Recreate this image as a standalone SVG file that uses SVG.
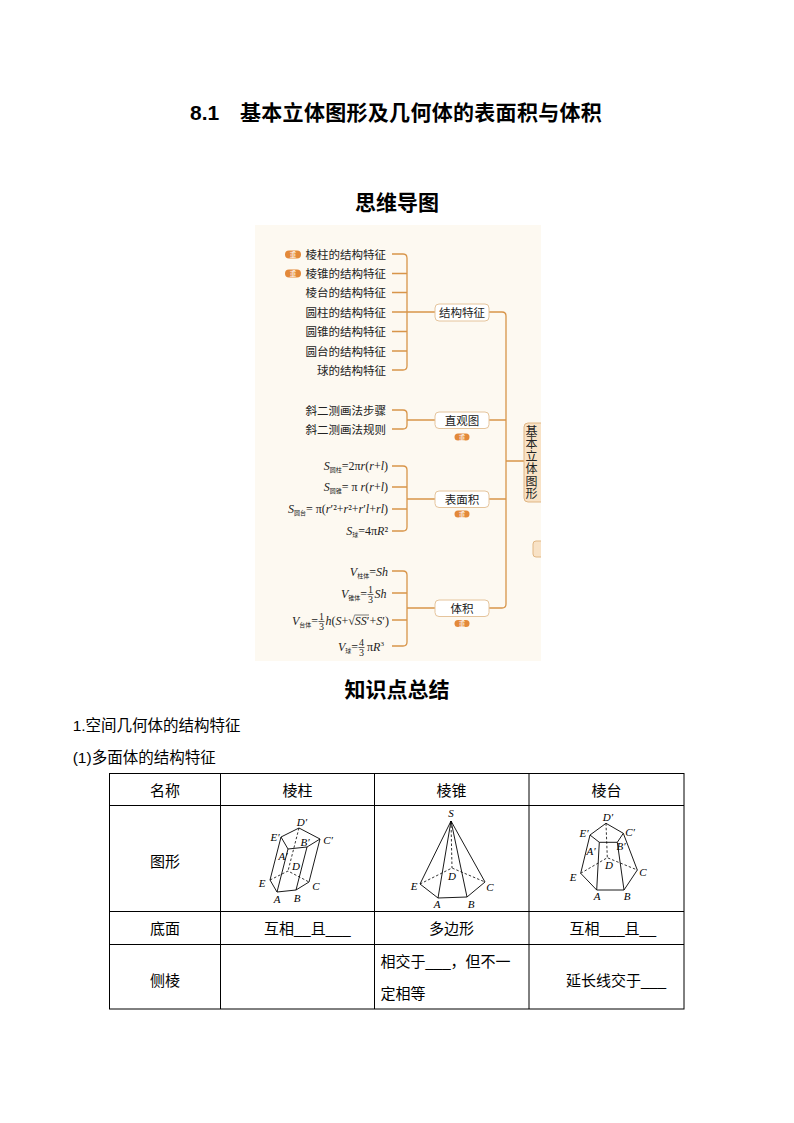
<svg xmlns="http://www.w3.org/2000/svg" width="794" height="1123" viewBox="0 0 794 1123">
<defs>
<style>
.h{font-family:"Liberation Sans","Noto Sans CJK SC",sans-serif;font-weight:bold;font-size:21px;fill:#000}
.b{font-family:"Liberation Sans","Noto Sans CJK SC",sans-serif;font-size:15.5px;fill:#000}
.t{font-family:"Liberation Sans","Noto Sans CJK SC",sans-serif;font-size:15px;fill:#000}
.mm{font-family:"Noto Sans CJK SC",sans-serif;font-size:11.5px;fill:#222}
.nt{font-family:"Noto Sans CJK SC",sans-serif;font-size:11.5px;fill:#222;text-anchor:middle}
.fm{font-family:"Liberation Serif","Noto Sans CJK SC",serif;font-size:12px;fill:#222}
.fr{font-family:"Liberation Serif",serif;font-size:10px;fill:#222;text-anchor:middle}
.sb{font-family:"Noto Sans CJK SC",sans-serif;font-size:6px}
.i{font-style:italic}
.lb{font-family:"Liberation Serif",serif;font-style:italic;font-size:11px;fill:#000;text-anchor:middle}
.bg{font-family:"Noto Sans CJK SC",sans-serif;font-size:6.5px;fill:#fff;text-anchor:middle}
.badge{fill:#e3893a}
.node{fill:#fff;stroke:#e5c49c;stroke-width:1}
.root{fill:#f8e2c6;stroke:#e0b683;stroke-width:1}
.ln{fill:none;stroke:#d8954a;stroke-width:1.3}
.fs{fill:none;stroke:#000;stroke-width:0.9;stroke-linejoin:round}
.fd{fill:none;stroke:#000;stroke-width:0.8;stroke-dasharray:2.5,2}
.tb{fill:none;stroke:#000;stroke-width:1}
.vt{font-family:"Noto Sans CJK SC",sans-serif;font-size:12px;fill:#222;writing-mode:vertical-rl;letter-spacing:0.5px}
</style>
<clipPath id="mmclip"><rect x="255" y="225" width="286" height="436"/></clipPath>
</defs>
<rect width="794" height="1123" fill="#fff"/>

<text class="h" y="120"><tspan x="190">8.1</tspan><tspan x="240" letter-spacing="0.3">基本立体图形及几何体的表面积与体积</tspan></text>
<text class="h" x="397" y="209.5" text-anchor="middle">思维导图</text>

<!-- mind map -->
<g clip-path="url(#mmclip)">
<rect x="255" y="225" width="286" height="436" fill="#fdf9f1"/>

<g id="connectors">
<path class="ln" d="M392,254 H403 Q407,254 407,258 V366 Q407,370 403,370 H392 M392,273.5 H407 M392,292.5 H407 M392,312 H407 M392,331.5 H407 M392,351 H407 M407,312 H435"/>
<path class="ln" d="M392,410 H403 Q407,410 407,414 V425 Q407,429 403,429 H392 M407,420 H435"/>
<path class="ln" d="M392,466 H403 Q407,466 407,470 V527 Q407,531 403,531 H392 M392,487 H407 M392,509 H407 M407,499 H435"/>
<path class="ln" d="M392,571 H403 Q407,571 407,575 V642 Q407,646 403,646 H392 M392,593 H407 M392,620 H407 M407,608 H435"/>
<path class="ln" d="M489,312 H502 Q506,312 506,316 V604 Q506,608 502,608 H489 M489,420 H506 M489,499 H506 M506,461 H524"/>
</g>

<g id="leaf-jgtz">
<rect class="badge" x="285" y="250.5" width="16" height="8" rx="4"/><text class="bg" x="293" y="257">重</text>
<text class="mm" x="386" y="258.5" text-anchor="end">棱柱的结构特征</text>
<rect class="badge" x="285" y="269.5" width="16" height="8" rx="4"/><text class="bg" x="293" y="276">重</text>
<text class="mm" x="386" y="278" text-anchor="end">棱锥的结构特征</text>
<text class="mm" x="386" y="297" text-anchor="end">棱台的结构特征</text>
<text class="mm" x="386" y="316.5" text-anchor="end">圆柱的结构特征</text>
<text class="mm" x="386" y="336" text-anchor="end">圆锥的结构特征</text>
<text class="mm" x="386" y="355.5" text-anchor="end">圆台的结构特征</text>
<text class="mm" x="386" y="374.5" text-anchor="end">球的结构特征</text>
</g>
<g id="node-jgtz"><rect class="node" x="435" y="304" width="54" height="17" rx="4"/><text class="nt" x="462" y="316.5">结构特征</text></g>

<g id="leaf-zgt">
<text class="mm" x="386" y="414.5" text-anchor="end">斜二测画法步骤</text>
<text class="mm" x="386" y="433.5" text-anchor="end">斜二测画法规则</text>
</g>
<g id="node-zgt"><rect class="node" x="435" y="412" width="54" height="16.5" rx="4"/><text class="nt" x="462" y="424.5">直观图</text>
<rect class="badge" x="454.5" y="433.5" width="15" height="7" rx="3.5"/><text class="bg" x="462" y="439.5">重</text></g>

<g id="leaf-bmj">
<text class="fm" x="388" y="470" text-anchor="end"><tspan class="i">S</tspan><tspan class="sb" dy="2">圆柱</tspan><tspan dy="-2">=2π</tspan><tspan class="i">r</tspan>(<tspan class="i">r</tspan>+<tspan class="i">l</tspan>)</text>
<text class="fm" x="388" y="491" text-anchor="end"><tspan class="i">S</tspan><tspan class="sb" dy="2">圆锥</tspan><tspan dy="-2">= π </tspan><tspan class="i">r</tspan>(<tspan class="i">r</tspan>+<tspan class="i">l</tspan>)</text>
<text class="fm" x="388" y="513" text-anchor="end"><tspan class="i">S</tspan><tspan class="sb" dy="2">圆台</tspan><tspan dy="-2">= π(</tspan><tspan class="i">r</tspan>′²+<tspan class="i">r</tspan>²+<tspan class="i">r</tspan>′<tspan class="i">l</tspan>+<tspan class="i">rl</tspan>)</text>
<text class="fm" x="388" y="535" text-anchor="end"><tspan class="i">S</tspan><tspan class="sb" dy="2">球</tspan><tspan dy="-2">=4π</tspan><tspan class="i">R</tspan>²</text>
</g>
<g id="node-bmj"><rect class="node" x="435" y="491" width="54" height="16.5" rx="4"/><text class="nt" x="462" y="503.5">表面积</text>
<rect class="badge" x="454.5" y="510.5" width="15" height="7" rx="3.5"/><text class="bg" x="462" y="516.5">重</text></g>

<g id="leaf-tj">
<text class="fm" x="388" y="575.5" text-anchor="end"><tspan class="i">V</tspan><tspan class="sb" dy="2">柱体</tspan><tspan dy="-2">=</tspan><tspan class="i">Sh</tspan></text>

<text class="fm" x="341" y="597.5"><tspan class="i">V</tspan><tspan class="sb" dy="2">锥体</tspan><tspan dy="-2">=</tspan></text>
<text class="fr" x="370.5" y="593">1</text><line x1="367.5" y1="594.5" x2="373.5" y2="594.5" stroke="#222" stroke-width="0.7"/><text class="fr" x="370.5" y="603">3</text>
<text class="fm i" x="374.5" y="597.5">Sh</text>

<text class="fm" x="292" y="624.5"><tspan class="i">V</tspan><tspan class="sb" dy="2">台体</tspan><tspan dy="-2">=</tspan></text>
<text class="fr" x="321.5" y="620">1</text><line x1="318.5" y1="621.5" x2="324.5" y2="621.5" stroke="#222" stroke-width="0.7"/><text class="fr" x="321.5" y="630">3</text>
<text class="fm" x="325.5" y="624.5"><tspan class="i">h</tspan>(<tspan class="i">S</tspan>+√<tspan class="i">SS</tspan>′+<tspan class="i">S</tspan>′)</text>
<line x1="354.5" y1="615" x2="369" y2="615" stroke="#222" stroke-width="0.6"/>

<text class="fm" x="338" y="650.5"><tspan class="i">V</tspan><tspan class="sb" dy="2">球</tspan><tspan dy="-2">=</tspan></text>
<text class="fr" x="361.5" y="646">4</text><line x1="358.5" y1="647.5" x2="364.5" y2="647.5" stroke="#222" stroke-width="0.7"/><text class="fr" x="361.5" y="656">3</text>
<text class="fm" x="367" y="650.5">π<tspan class="i">R</tspan><tspan font-size="7" dy="-5">3</tspan></text>
</g>
<g id="node-tj"><rect class="node" x="435" y="600" width="54" height="16.5" rx="4"/><text class="nt" x="462" y="612.5">体积</text>
<rect class="badge" x="454.5" y="620" width="15" height="7" rx="3.5"/><text class="bg" x="462" y="626">重</text></g>

<g id="node-root"><rect class="root" x="524" y="423" width="24" height="79" rx="4"/>
<text class="vt" x="531.5" y="425">基本立体图形</text></g>
<g id="node-partial"><rect class="root" x="533" y="541" width="14" height="16" rx="3"/></g>
</g>

<!-- knowledge summary -->
<text class="h" x="397" y="696.5" text-anchor="middle">知识点总结</text>
<text class="b" x="72.7" y="731">1.空间几何体的结构特征</text>
<text class="b" x="72.7" y="763">(1)多面体的结构特征</text>

<g id="table">
<rect class="tb" x="109.5" y="773.5" width="574.5" height="235.5"/>
<path class="tb" d="M109.5,805.5 H684 M109.5,911.5 H684 M109.5,944.5 H684 M220.5,773.5 V1009 M374.5,773.5 V1009 M529,773.5 V1009"/>
<text class="t" x="165" y="795.5" text-anchor="middle">名称</text>
<text class="t" x="297.5" y="795.5" text-anchor="middle">棱柱</text>
<text class="t" x="451.5" y="795.5" text-anchor="middle">棱锥</text>
<text class="t" x="606.5" y="795.5" text-anchor="middle">棱台</text>
<text class="t" x="165" y="867" text-anchor="middle">图形</text>
<text class="t" x="165" y="934" text-anchor="middle">底面</text>
<text class="t" x="264" y="934">互相__且___</text>
<text class="t" x="451.5" y="934" text-anchor="middle">多边形</text>
<text class="t" x="569.5" y="934">互相___且__</text>
<text class="t" x="165" y="985.5" text-anchor="middle">侧棱</text>
<text class="t" x="380.5" y="966.5">相交于___，但不一</text>
<text class="t" x="380.5" y="998.5">定相等</text>
<text class="t" x="566" y="985.5">延长线交于___</text>
</g>

<g id="fig-prism">
<path class="fs" d="M281,837 L299,828 L320,839 L307,847 L288,849 Z"/>
<path class="fs" d="M281,837 L270,880 L277,892 L296,890 L309,882 L320,839 M288,849 L277,892 M307,847 L296,890"/>
<path class="fd" d="M299,828 L288,871 M270,880 L288,871 L309,882"/>
<text class="lb" x="302" y="826">D′</text>
<text class="lb" x="275" y="841">E′</text>
<text class="lb" x="328" y="844">C′</text>
<text class="lb" x="305" y="846">B′</text>
<text class="lb" x="283" y="860">A′</text>
<text class="lb" x="296" y="870">D</text>
<text class="lb" x="262" y="887">E</text>
<text class="lb" x="277" y="903">A</text>
<text class="lb" x="297" y="902">B</text>
<text class="lb" x="316" y="890">C</text>
</g>

<g id="fig-pyramid">
<path class="fs" d="M451,821 L420,884 L438,898 L467,897 L485,882 Z M451,821 L438,898 M451,821 L467,897"/>
<path class="fd" d="M451,821 L452,868 M420,884 L452,868 L485,882"/>
<text class="lb" x="451" y="817">S</text>
<text class="lb" x="414" y="890">E</text>
<text class="lb" x="437" y="908">A</text>
<text class="lb" x="471" y="908">B</text>
<text class="lb" x="490" y="891">C</text>
<text class="lb" x="452" y="880">D</text>
</g>

<g id="fig-frustum">
<path class="fs" d="M590,835 L606,823.3 L623.3,833.3 L617.3,842.3 L599.3,842.3 Z"/>
<path class="fs" d="M590,835 L580.7,873.3 L596.7,890 L624,890 L637.3,870 L623.3,833.3 M599.3,842.3 L596.7,890 M617.3,842.3 L624,890"/>
<path class="fd" d="M606,823.3 L607.3,857.7 M580.7,873.3 L607.3,857.7 L637.3,870"/>
<text class="lb" x="608" y="821">D′</text>
<text class="lb" x="584" y="837">E′</text>
<text class="lb" x="630" y="836">C′</text>
<text class="lb" x="621" y="850">B′</text>
<text class="lb" x="591" y="855">A′</text>
<text class="lb" x="609" y="869">D</text>
<text class="lb" x="573" y="881">E</text>
<text class="lb" x="597" y="900">A</text>
<text class="lb" x="627" y="900">B</text>
<text class="lb" x="643" y="876">C</text>
</g>
</svg>
